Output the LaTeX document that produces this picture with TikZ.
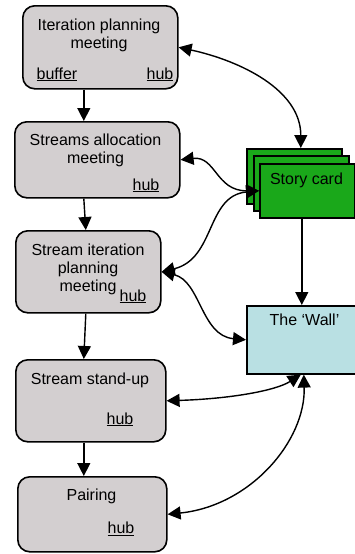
\documentclass[tikz,border=0pt]{standalone}
\usepackage{fontspec}
\setmainfont{Liberation Sans}
\usetikzlibrary{arrows.meta, calc}
\definecolor{boxgray}{RGB}{211,207,208}
\definecolor{cardgreen}{RGB}{26,168,26}
\definecolor{wallblue}{RGB}{185,224,227}
\tikzstyle{meeting} = [draw, line width=1.6pt, rounded corners=12pt, fill=boxgray, anchor=north west, inner sep=0pt]
\tikzstyle{card} = [draw, line width=1.6pt, fill=cardgreen, anchor=north west, inner sep=0pt]
\tikzstyle{title} = [anchor=north, inner sep=0pt, align=center, font=\fontsize{16}{18}\selectfont]
\tikzstyle{tag} = [anchor=base west, inner sep=0pt, font=\fontsize{16}{18}\selectfont]

\begin{document}
\begin{tikzpicture}[x=1pt, y=1pt, >={Triangle[length=13pt, width=13pt]}, line width=1.4pt]
        \useasboundingbox (0,0) rectangle (355,-554);

        \node[meeting, minimum width=155, minimum height=83] (IPM) at (22,-5) {};
        \node[meeting, minimum width=165, minimum height=76] (SAM) at (14,-121) {};
        \node[meeting, minimum width=145, minimum height=82] (SIPM) at (15,-230) {};
        \node[meeting, minimum width=150, minimum height=82] (SSU) at (15,-359) {};
        \node[meeting, minimum width=149, minimum height=75] (Pair) at (17,-476) {};

        \node[title] (IPMtext) at (99,-18.5) {Iteration planning\\meeting};
        \node[tag] (IPMbuffer) at (36,-79) {\underline{buffer}};
        \node[tag] (IPMhub) at (146,-79) {\underline{hub}};
        \node[title] (SAMtext) at (95.5,-133.5) {Streams allocation\\meeting};
        \node[tag] (SAMhub) at (132,-190) {\underline{hub}};
        \node[title] (SIPMtext) at (88,-243) {Stream iteration\\planning\\meeting};
        \node[tag] (SIPMhub) at (119,-301) {\underline{hub}};
        \node[title] (SSUtext) at (90,-372.5) {Stream stand-up};
        \node[tag] (SSUhub) at (106,-424) {\underline{hub}};
        \node[title] (Pairtext) at (91.5,-488) {Pairing};
        \node[tag] (Pairhub) at (107,-533.5) {\underline{hub}};

        \node[card, minimum width=95, minimum height=55] (CardC) at (246,-148) {};
        \node[card, minimum width=95, minimum height=55] (CardB) at (253,-155) {};
        \node[card, minimum width=95, minimum height=54] (Card) at (259,-163) {};
        \node[title] (Cardtext) at (306.5,-172) {Story card};

        \node[draw, line width=1.6pt, fill=wallblue, anchor=north west, inner sep=0pt, minimum width=112, minimum height=68] (Wall) at (246,-305) {};
        \node[title] (Walltext) at (304.5,-313) {The ‘Wall’};

        \draw[->] ([xshift=-16.5pt]IPM.south) -- ([xshift=-13.5pt]SAM.north);
        \draw[->] ([xshift=-13.5pt]SAM.south) -- ([xshift=-2.5pt]SIPM.north);
        \draw[->] ([xshift=-2.5pt]SIPM.south) -- ([xshift=-7pt]SSU.north);
        \draw[->] ([xshift=-7pt]SSU.south) -- ([xshift=-8.5pt]Pair.north);
        \draw[->] ([xshift=-5.5pt]Card.south) -- ([xshift=-1pt]Wall.north);

        \draw[<->] (IPM.east) .. controls +(62,-13.5) and +(0,58) .. ([xshift=6.5pt]CardC.north);
        \draw[<->] (SAM.east) .. controls +(35,4) and +(-43,0) .. (Card.west);
        \draw[<->] (SIPM.east) .. controls +(54,13) and +(-53,-5) .. (Card.west);
        \draw[<->] (SIPM.east) .. controls +(39,-9) and +(-45,4) .. (Wall.west);
        \draw[<->] (SSU.east) .. controls +(64,2) and +(-25,-16) .. ([xshift=-2pt]Wall.south);
        \draw[<->] (Pair.east) .. controls +(83,8.5) and +(2,-66) .. ([xshift=1pt]Wall.south);

    \end{tikzpicture}
\end{document}
